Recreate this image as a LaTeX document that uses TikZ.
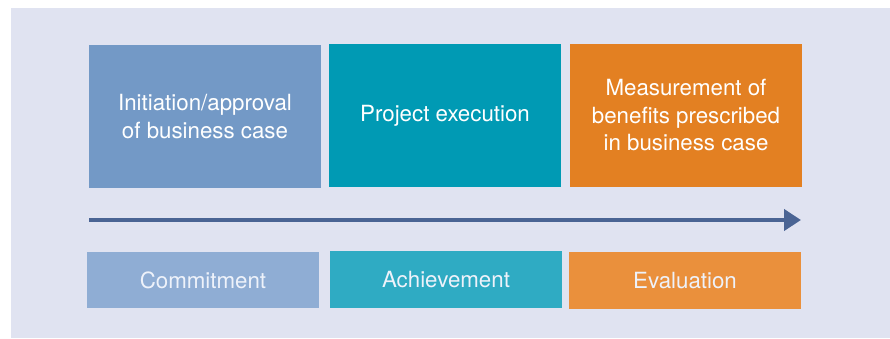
\documentclass[tikz,border=0pt]{standalone}
\usepackage{fontspec}
\setmainfont{TeX Gyre Heros}
\usetikzlibrary{arrows.meta}
\definecolor{bgc}{RGB}{224,227,241}
\definecolor{topa}{RGB}{115,153,198}
\definecolor{topb}{RGB}{0,154,180}
\definecolor{topc}{RGB}{227,128,34}
\definecolor{bota}{RGB}{143,173,212}
\definecolor{botb}{RGB}{47,171,195}
\definecolor{botc}{RGB}{234,144,60}
\definecolor{arrc}{RGB}{74,100,148}
\definecolor{txtc}{RGB}{238,242,250}
\tikzset{
  phase/.style={rectangle, inner sep=0pt, minimum width=232pt, minimum height=143pt,
    align=center, text=white, font=\fontsize{22.3}{27.5}\selectfont},
  label box/.style={rectangle, inner sep=0pt, minimum width=232pt, minimum height=57pt,
    align=center, text=txtc, font=\fontsize{22.3}{27.5}\selectfont},
  timeline/.style={draw=arrc, line width=4pt, -{Triangle[length=17pt,width=21pt]}}
}
\begin{document}
\begin{tikzpicture}[x=1pt,y=-1pt]
\useasboundingbox (0,0) rectangle (890,338);
\fill[bgc] (11,8) rectangle (890,338);
\node[phase, fill=topa] (t1) at (205,116.5) {Initiation/approval\\of business case};
\node[phase, fill=topb] (t2) at (445,115.5) {Project execution};
\node[phase, fill=topc] (t3) at (686,115.5) {Measurement of\\benefits prescribed\\in business case};
\node[label box, fill=bota, minimum height=56pt] (b1) at (203,280) {Commitment};
\node[label box, fill=botb] (b2) at (446,279.5) {Achievement};
\node[label box, fill=botc] (b3) at (685,280.5) {Evaluation};
\coordinate (as) at (89,220);
\coordinate (ae) at (801,220);
\draw[timeline] (as) -- (ae);
\end{tikzpicture}
\end{document}
